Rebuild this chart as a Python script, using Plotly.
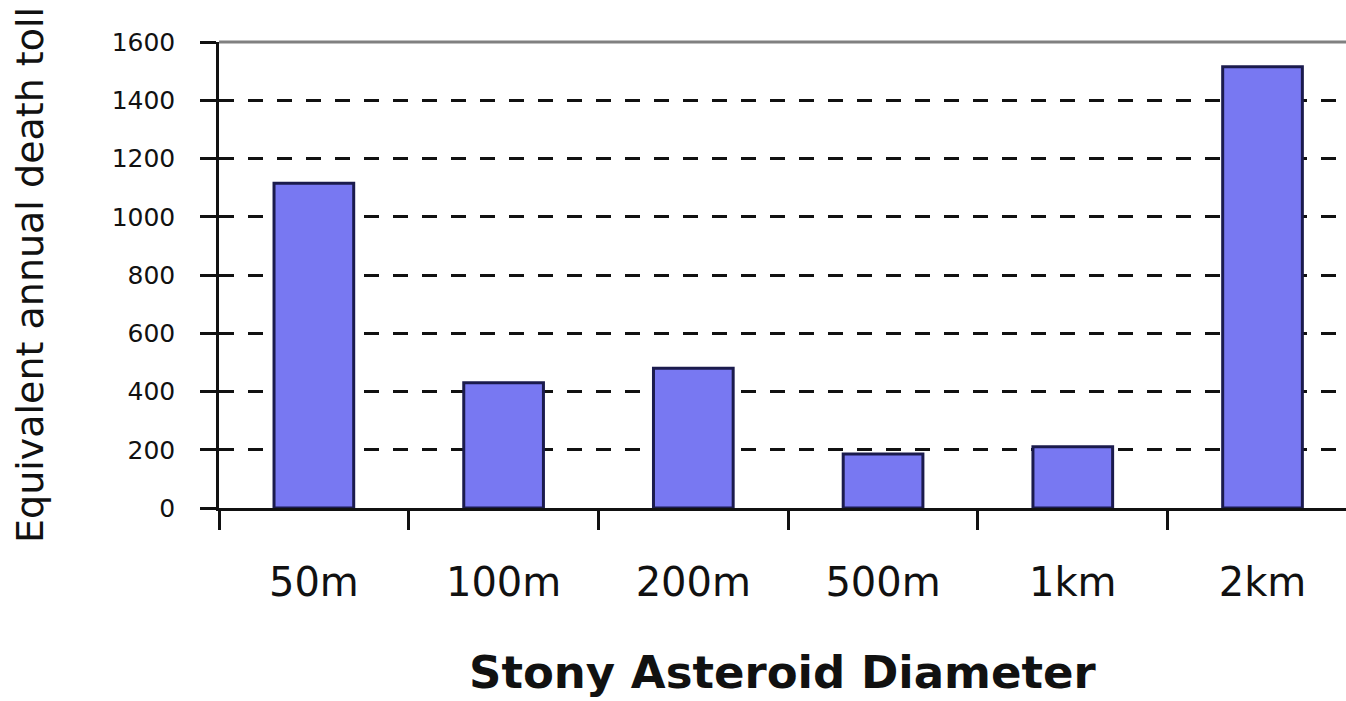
import plotly.graph_objects as go

# Asteroid size classes and the equivalent annual death toll for each
diameters = ["50m", "100m", "200m", "500m", "1km", "2km"]
death_toll = [1115, 430, 480, 185, 210, 1515]
y_ticks = [0, 200, 400, 600, 800, 1000, 1200, 1400, 1600]

FONT = "DejaVu Sans"

fig = go.Figure(
    go.Bar(
        x=diameters,
        y=death_toll,
        width=0.42,
        marker=dict(color="#7878f2", line=dict(color="#1b1b4d", width=3)),
        hoverinfo="x+y",
    )
)

fig.update_layout(
    width=1346,
    height=701,
    margin=dict(l=219, r=0, t=42, b=193),
    paper_bgcolor="white",
    plot_bgcolor="white",
    showlegend=False,
    font=dict(family=FONT, color="#111111"),
    xaxis=dict(
        type="category",
        range=[-0.5, 5.44],
        tickson="boundaries",
        ticks="outside",
        ticklen=19,
        tickwidth=2.5,
        tickcolor="#111111",
        showline=True,
        linecolor="#111111",
        linewidth=2.5,
        showgrid=False,
        tickfont=dict(family=FONT, size=40, color="#111111"),
        ticklabelstandoff=37,
    ),
    yaxis=dict(
        range=[0, 1600],
        tickvals=y_ticks,
        ticks="outside",
        ticklen=16,
        tickwidth=2.5,
        tickcolor="#111111",
        showline=True,
        linecolor="#111111",
        linewidth=2.5,
        showgrid=True,
        gridcolor="#111111",
        gridwidth=2.5,
        griddash="15px,14px",
        zeroline=False,
        tickfont=dict(family=FONT, size=25, color="#111111"),
        ticklabelstandoff=20,
    ),
    shapes=[
        # solid grey frame line along the top of the plot
        dict(type="line", xref="paper", yref="paper", x0=0, x1=1, y0=1, y1=1,
             line=dict(color="#808080", width=3), layer="above"),
    ],
    annotations=[
        dict(text="Stony Asteroid Diameter", xref="paper", yref="paper",
             x=0.5, y=-0.352, xanchor="center", yanchor="middle", showarrow=False,
             font=dict(family=FONT, size=45, color="#111111", weight="bold")),
        dict(text="Equivalent annual death toll", xref="paper", yref="paper",
             x=-0.1677, y=0.5, xanchor="center", yanchor="middle", showarrow=False,
             textangle=-90,
             font=dict(family=FONT, size=38, color="#111111")),
    ],
)

fig.write_html("out.html")
